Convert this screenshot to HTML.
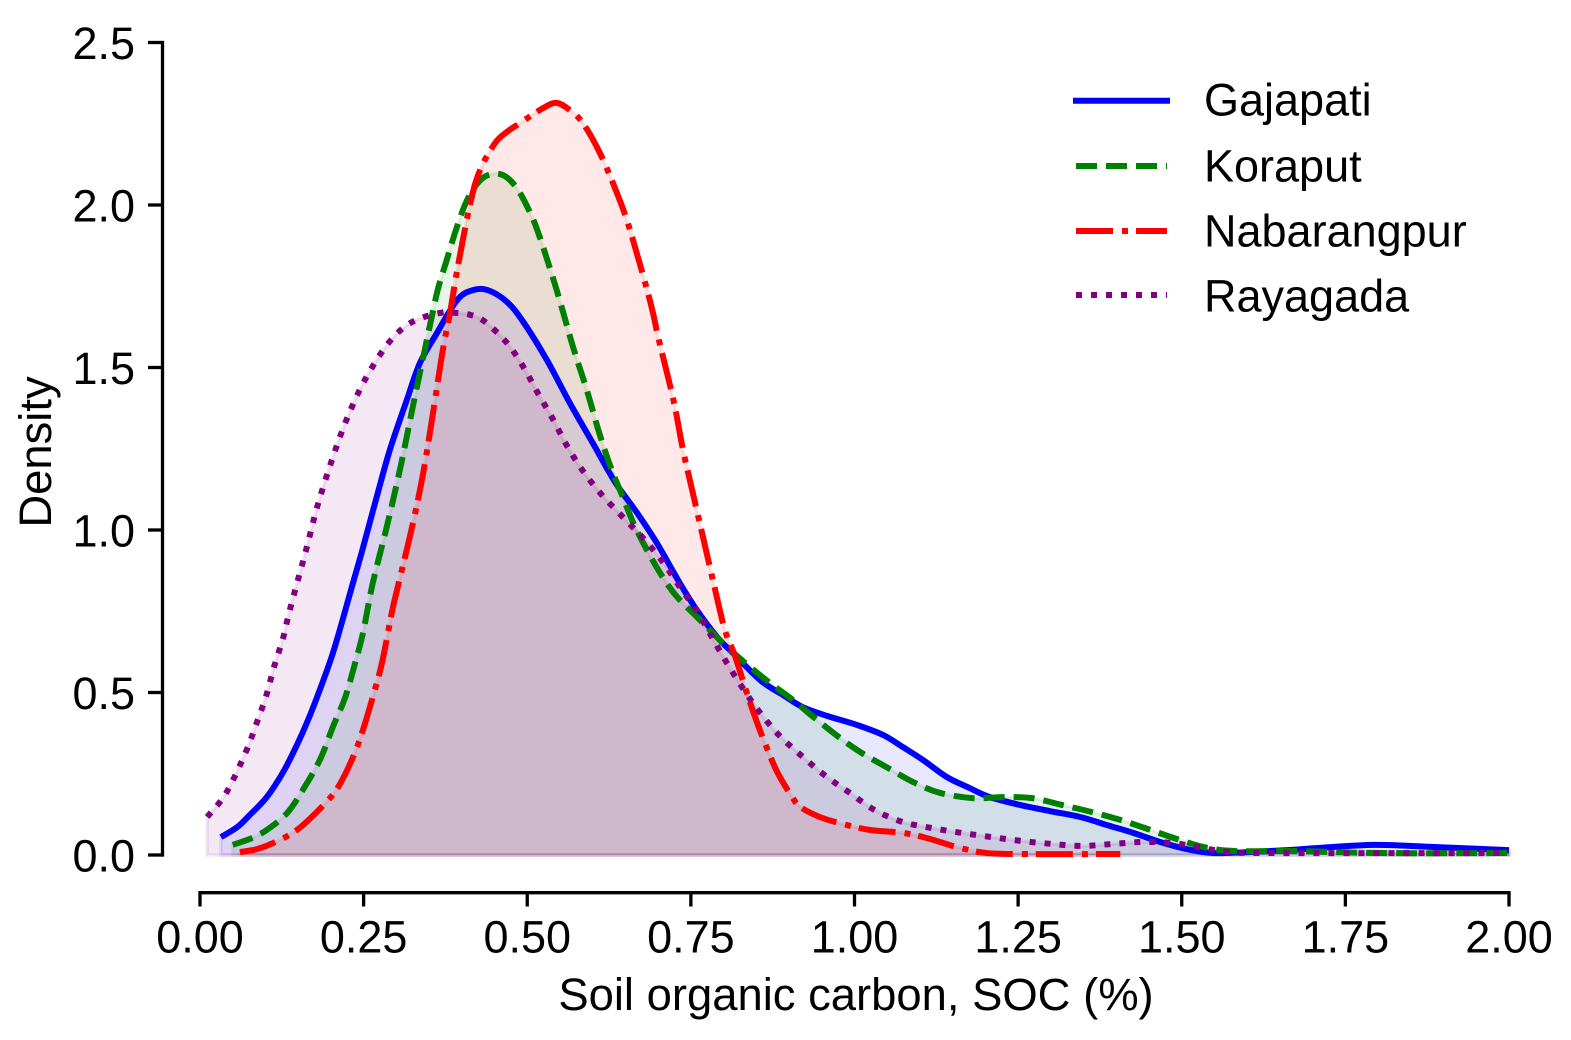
<!DOCTYPE html>
<html>
<head>
<meta charset="utf-8">
<title>Soil organic carbon density</title>
<style>
html,body{margin:0;padding:0;background:#fff;width:1571px;height:1040px;overflow:hidden}
svg{display:block}
text{font-family:"Liberation Sans",Arial,sans-serif;font-size:45px;fill:#000}
</style>
</head>
<body>
<svg id="chart" xmlns="http://www.w3.org/2000/svg" width="1571" height="1040" viewBox="0 0 1571 1040">
  <g id="fills"></g>
  <g id="lines"></g>
  <g id="y-axis"></g>
  <g id="x-axis"></g>
  <text x="856" y="1010" text-anchor="middle" style="font-size:45.4px">Soil organic carbon, SOC (%)</text>
  <text transform="translate(51,452) rotate(-90)" text-anchor="middle" style="font-size:45.4px">Density</text>
  <g>
    <line x1="1073" y1="100.7" x2="1170" y2="100.7" stroke="#0000ff" stroke-width="6"/>
    <text x="1204" y="115.5">Gajapati</text>
    <line x1="1076" y1="166" x2="1167" y2="166" stroke="#008000" stroke-width="6" stroke-dasharray="21 9"/>
    <text x="1204" y="181.7">Koraput</text>
    <line x1="1076" y1="231" x2="1167" y2="231" stroke="#ff0000" stroke-width="6" stroke-dasharray="37 9 6 8"/>
    <text x="1204" y="246.7">Nabarangpur</text>
    <line x1="1076" y1="295" x2="1167" y2="295" stroke="#800080" stroke-width="6" stroke-dasharray="6 9"/>
    <text x="1204" y="311.7">Rayagada</text>
  </g>
</svg>
<script>
const xTickValues = [0, 0.25, 0.5, 0.75, 1, 1.25, 1.5, 1.75, 2];
const xTickLabels = ["0.00", "0.25", "0.50", "0.75", "1.00", "1.25", "1.50", "1.75", "2.00"];
const yTickValues = [0, 0.5, 1, 1.5, 2, 2.5];
const yTickLabels = ["0.0", "0.5", "1.0", "1.5", "2.0", "2.5"];

const gajapatiSoc = [.032,.057,.076,.102,.127,.148,.165,.183,.202,.217,.232,.248,.270,.290,.316,.336,.362,.393,.417,.440,.469,.494,.530,.565,.600,.634,.668,.698,.733,.759,.790,.814,.856,.891,.921,.958,1.004,1.044,1.074,1.105,1.141,1.176,1.207,1.253,1.299,1.345,1.386,1.426,1.467,1.508,1.548,1.600,1.661,1.711,1.795,1.881,2.0];
const gajapatiDensity = [.055,.086,.123,.178,.255,.338,.415,.508,.615,.717,.825,.938,1.102,1.246,1.400,1.514,1.606,1.708,1.738,1.738,1.702,1.640,1.523,1.391,1.268,1.148,1.052,.960,.837,.754,.671,.622,.538,.492,.455,.428,.400,.369,.332,.292,.240,.206,.178,.154,.135,.117,.092,.068,.040,.018,.006,.009,.015,.022,.031,.025,.015];

const koraputSoc = [.050,.079,.102,.133,.157,.183,.203,.222,.237,.249,.264,.286,.307,.325,.344,.354,.364,.377,.391,.406,.422,.440,.463,.484,.504,.519,.545,.570,.591,.611,.629,.646,.662,.683,.707,.729,.761,.799,.833,.871,.906,.937,.978,1.011,1.051,1.092,1.131,1.180,1.227,1.271,1.317,1.363,1.406,1.448,1.493,1.539,1.584,1.676,1.803,2.0];
const koraputDensity = [.031,.052,.077,.129,.200,.292,.394,.486,.591,.683,.837,1.015,1.200,1.378,1.560,1.655,1.745,1.831,1.923,2.006,2.062,2.092,2.092,2.052,1.978,1.902,1.738,1.563,1.431,1.292,1.185,1.102,1.022,.938,.855,.794,.729,.652,.591,.529,.477,.425,.360,.314,.268,.222,.191,.175,.178,.175,.154,.132,.108,.080,.049,.022,.012,.012,.006,.006];

const nabarangpurSoc = [.061,.087,.112,.148,.186,.211,.234,.249,.264,.278,.293,.301,.324,.341,.356,.371,.382,.393,.413,.428,.451,.469,.489,.524,.545,.565,.585,.611,.637,.657,.688,.700,.715,.726,.738,.753,.772,.785,.802,.817,.833,.848,.863,.882,.905,.917,.947,.983,1.024,1.074,1.111,1.161,1.203,1.258,1.406];
const nabarangpurDensity = [.009,.018,.037,.077,.148,.209,.302,.385,.486,.591,.745,.815,1.009,1.175,1.360,1.554,1.668,1.800,2.006,2.108,2.191,2.225,2.252,2.298,2.314,2.292,2.252,2.160,2.037,1.923,1.702,1.594,1.471,1.375,1.246,1.114,.948,.834,.692,.615,.514,.425,.345,.255,.178,.148,.117,.095,.077,.068,.052,.022,.006,.003,.003];

const rayagadaSoc = [.011,.040,.070,.086,.101,.113,.127,.138,.162,.179,.200,.223,.252,.289,.324,.367,.391,.413,.434,.468,.494,.516,.539,.561,.585,.614,.646,.677,.707,.733,.759,.782,.805,.830,.856,.886,.921,.956,.993,1.031,1.073,1.118,1.164,1.210,1.256,1.302,1.348,1.394,1.440,1.486,1.531,1.574,1.646,2.0];
const rayagadaDensity = [.117,.191,.317,.403,.489,.578,.668,.760,.938,1.071,1.206,1.335,1.462,1.578,1.640,1.668,1.668,1.662,1.643,1.578,1.502,1.422,1.342,1.258,1.182,1.108,1.040,.975,.902,.825,.751,.671,.591,.511,.437,.366,.302,.243,.191,.138,.102,.083,.068,.055,.043,.034,.028,.034,.040,.037,.022,.009,.006,.006];

const seriesColors = ["#0000ff", "#008000", "#ff0000", "#800080"];
const seriesDashes = ["none", "21 9", "37 9 6 8", "6 9"];
const seriesNames = ["gajapati", "koraput", "nabarangpur", "rayagada"];
const seriesSoc = [gajapatiSoc, koraputSoc, nabarangpurSoc, rayagadaSoc];
const seriesDensity = [gajapatiDensity, koraputDensity, nabarangpurDensity, rayagadaDensity];

const SVG_NS = "http://www.w3.org/2000/svg";
function xScale(v) { return 200 + v * 654.5; }
function yScale(v) { return 855 - v * 325; }

function make(tag, attrs, parent) {
  const el = document.createElementNS(SVG_NS, tag);
  for (const k in attrs) el.setAttribute(k, attrs[k]);
  parent.appendChild(el);
  return el;
}

function curve(px, py) {
  let d = "M" + px[0].toFixed(2) + " " + py[0].toFixed(2);
  for (let i = 0; i < px.length - 1; i++) {
    const i0 = Math.max(0, i - 1), i3 = Math.min(px.length - 1, i + 2);
    const c1x = px[i] + (px[i + 1] - px[i0]) / 6;
    const c1y = py[i] + (py[i + 1] - py[i0]) / 6;
    const c2x = px[i + 1] - (px[i3] - px[i]) / 6;
    const c2y = py[i + 1] - (py[i3] - py[i]) / 6;
    d += "C" + c1x.toFixed(2) + " " + c1y.toFixed(2) + " " + c2x.toFixed(2) + " " + c2y.toFixed(2) + " " + px[i + 1].toFixed(2) + " " + py[i + 1].toFixed(2);
  }
  return d;
}

const fillsGroup = document.getElementById("fills");
const linesGroup = document.getElementById("lines");
seriesNames.forEach(function (name, s) {
  const px = seriesSoc[s].map(xScale);
  const py = seriesDensity[s].map(yScale);
  const d = curve(px, py);
  const base = yScale(0).toFixed(2);
  const area = make("path", {
    d: d + "L" + px[px.length - 1].toFixed(2) + " " + base + "L" + px[0].toFixed(2) + " " + base + "Z",
    fill: seriesColors[s], "fill-opacity": 0.09,
    stroke: seriesColors[s], "stroke-opacity": 0.09, "stroke-width": 3.5
  }, fillsGroup);
  
  
  const line = make("path", {
    d: d, fill: "none", stroke: seriesColors[s], "stroke-width": 6,
    "stroke-dasharray": seriesDashes[s], "stroke-linejoin": "round"
  }, linesGroup);
  
  
});

const yAxis = document.getElementById("y-axis");
const ySpine = make("line", { x1: 162.5, x2: 162.5, y1: yScale(2.5) - 1.6, y2: yScale(0) + 1.6, stroke: "#000", "stroke-width": 3.3 }, yAxis);


yTickValues.forEach(function (v, i) {
  const tick = make("line", { x1: 148, x2: 162.5, y1: yScale(v), y2: yScale(v), stroke: "#000", "stroke-width": 3.3 }, yAxis);
  
  
  const label = make("text", { x: 135, y: yScale(v) + 16.4, "text-anchor": "end" }, yAxis);
  label.textContent = yTickLabels[i];
  
  
});

const xAxis = document.getElementById("x-axis");
const xSpine = make("line", { x1: xScale(0) - 1.6, x2: xScale(2) + 1.6, y1: 892.7, y2: 892.7, stroke: "#000", "stroke-width": 3.3 }, xAxis);


xTickValues.forEach(function (v, i) {
  const tick = make("line", { x1: xScale(v), x2: xScale(v), y1: 892.7, y2: 906.5, stroke: "#000", "stroke-width": 3.3 }, xAxis);
  
  
  const label = make("text", { x: xScale(v), y: 952.5, "text-anchor": "middle" }, xAxis);
  label.textContent = xTickLabels[i];
  
  
});
</script>
</body>
</html>
